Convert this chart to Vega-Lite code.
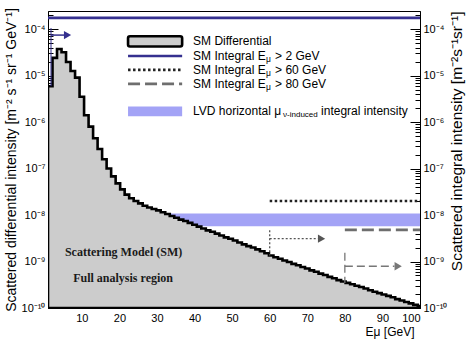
{
  "$schema": "https://vega.github.io/schema/vega-lite/v6.json",
  "width": 372,
  "height": 297,
  "autosize": {"type": "none"},
  "padding": {"left": 48, "top": 11, "right": 49, "bottom": 35},
  "background": "white",
  "config": {
    "view": {"stroke": "black", "strokeWidth": 1},
    "font": "Liberation Sans",
    "axis": {"domainColor": "black", "tickColor": "black", "labelColor": "black", "titleColor": "black", "labelFont": "Liberation Sans", "titleFont": "Liberation Sans", "labelFontSize": 11, "titleFontSize": 14, "titleFontWeight": "normal", "grid": false}
  },
  "datasets": {
    "hist": [
      {"e": 1, "v": 5.89e-6}, {"e": 2.2, "v": 2.40e-5}, {"e": 3.4, "v": 3.72e-5}, {"e": 4.6, "v": 3.16e-5}, {"e": 5.8, "v": 1.95e-5},
      {"e": 7, "v": 1.25e-5}, {"e": 8.2, "v": 9.0e-6}, {"e": 9.4, "v": 3.5e-6}, {"e": 10.6, "v": 1.4e-6}, {"e": 11.8, "v": 7.94e-7},
      {"e": 13, "v": 4.47e-7}, {"e": 14.2, "v": 2.63e-7}, {"e": 15.4, "v": 1.58e-7}, {"e": 16.6, "v": 1.00e-7}, {"e": 17.8, "v": 6.76e-8},
      {"e": 19, "v": 4.79e-8}, {"e": 20.2, "v": 3.55e-8}, {"e": 21.4, "v": 2.75e-8}, {"e": 22.6, "v": 2.29e-8}, {"e": 23.8, "v": 2.00e-8},
      {"e": 25, "v": 1.78e-8}, {"e": 26.2, "v": 1.58e-8}, {"e": 27.4, "v": 1.45e-8}, {"e": 28.6, "v": 1.35e-8}, {"e": 29.8, "v": 1.26e-8},
      {"e": 31, "v": 1.15e-8}, {"e": 32.2, "v": 1.05e-8}, {"e": 33.4, "v": 9.55e-9}, {"e": 34.6, "v": 8.71e-9}, {"e": 35.8, "v": 7.94e-9},
      {"e": 37, "v": 7.41e-9}, {"e": 38.2, "v": 6.76e-9}, {"e": 39.4, "v": 6.17e-9}, {"e": 40.6, "v": 5.62e-9}, {"e": 41.8, "v": 5.13e-9},
      {"e": 43, "v": 4.68e-9}, {"e": 44.2, "v": 4.37e-9}, {"e": 45.4, "v": 3.98e-9}, {"e": 46.6, "v": 3.63e-9}, {"e": 47.8, "v": 3.31e-9},
      {"e": 49, "v": 3.09e-9}, {"e": 50.2, "v": 2.82e-9}, {"e": 51.4, "v": 2.57e-9}, {"e": 52.6, "v": 2.34e-9}, {"e": 53.8, "v": 2.14e-9},
      {"e": 55, "v": 2.00e-9}, {"e": 56.2, "v": 1.82e-9}, {"e": 57.4, "v": 1.66e-9}, {"e": 58.6, "v": 1.51e-9}, {"e": 59.8, "v": 1.35e-9},
      {"e": 61, "v": 1.23e-9}, {"e": 62.2, "v": 1.15e-9}, {"e": 63.4, "v": 1.05e-9}, {"e": 64.6, "v": 9.77e-10}, {"e": 65.8, "v": 8.91e-10},
      {"e": 67, "v": 8.32e-10}, {"e": 68.2, "v": 7.59e-10}, {"e": 69.4, "v": 7.08e-10}, {"e": 70.6, "v": 6.46e-10}, {"e": 71.8, "v": 6.03e-10},
      {"e": 73, "v": 5.50e-10}, {"e": 74.2, "v": 5.13e-10}, {"e": 75.4, "v": 4.68e-10}, {"e": 76.6, "v": 4.37e-10}, {"e": 77.8, "v": 3.98e-10},
      {"e": 79, "v": 3.72e-10}, {"e": 80.2, "v": 3.47e-10}, {"e": 81.4, "v": 3.24e-10}, {"e": 82.6, "v": 3.02e-10}, {"e": 83.8, "v": 2.82e-10},
      {"e": 85, "v": 2.63e-10}, {"e": 86.2, "v": 2.40e-10}, {"e": 87.4, "v": 2.24e-10}, {"e": 88.6, "v": 2.09e-10}, {"e": 89.8, "v": 1.95e-10},
      {"e": 91, "v": 1.82e-10}, {"e": 92.2, "v": 1.70e-10}, {"e": 93.4, "v": 1.55e-10}, {"e": 94.6, "v": 1.45e-10}, {"e": 95.8, "v": 1.35e-10},
      {"e": 97, "v": 1.26e-10}, {"e": 98.2, "v": 1.17e-10}, {"e": 99.4, "v": 1.10e-10}, {"e": 100, "v": 1.10e-10}
    ],
    "band": [{"x1": 1, "x2": 100, "lo": 5.7e-9, "hi": 1.08e-8}],
    "integral": [
      {"name": "gt2", "x1": 1, "x2": 100, "v": 1.74e-4},
      {"name": "gt60", "x1": 60, "x2": 100, "v": 2.0e-8},
      {"name": "gt80", "x1": 80, "x2": 100, "v": 4.8e-9}
    ],
    "arrows": [
      {"name": "gt2", "x": 1.8, "top": 1.05e-4, "bottom": 5.89e-6, "ay": 7.4e-5, "ax2": 5.6, "head": 6.2},
      {"name": "gt60", "x": 60, "top": 4.7e-9, "bottom": 1.35e-9, "ay": 3.1e-9, "ax2": 72.8, "head": 73.8},
      {"name": "gt80", "x": 80, "top": 1.55e-9, "bottom": 3.47e-10, "ay": 7.9e-10, "ax2": 93.2, "head": 94.2}
    ],
    "notes": [
      {"t": "Scattering Model (SM)", "x": 5.5, "y": 1.6e-9},
      {"t": "Full analysis region", "x": 7.7, "y": 4.4e-10}
    ],
    "legsym": [
      {"name": "gt2", "x1": 22.3, "x2": 36.7, "v": 2.63e-5},
      {"name": "gt60", "x1": 22.3, "x2": 36.7, "v": 1.32e-5},
      {"name": "gt80", "x1": 22.3, "x2": 36.7, "v": 6.6e-6}
    ],
    "legbox": [
      {"name": "diff", "x1": 22.3, "x2": 36.7, "lo": 4.2e-5, "hi": 7.0e-5},
      {"name": "lvd", "x1": 22.3, "x2": 36.7, "lo": 1.33e-6, "hi": 2.15e-6}
    ],
    "legtext": [
      {"t": "SM Differential", "x": 39.6, "y": 5.4e-5},
      {"t": "SM Integral E", "x": 39.6, "y": 2.63e-5},
      {"t": "SM Integral E", "x": 39.6, "y": 1.32e-5},
      {"t": "SM Integral E", "x": 39.6, "y": 6.6e-6},
      {"t": "LVD horizontal μ", "x": 39.6, "y": 1.7e-6}
    ],
    "legsub": [
      {"t": "μ", "x": 39.6, "y": 2.63e-5},
      {"t": "μ", "x": 39.6, "y": 1.32e-5},
      {"t": "μ", "x": 39.6, "y": 6.6e-6}
    ],
    "legpost": [
      {"t": "> 2 GeV", "x": 39.6, "y": 2.63e-5},
      {"t": "> 60 GeV", "x": 39.6, "y": 1.32e-5},
      {"t": "> 80 GeV", "x": 39.6, "y": 6.6e-6}
    ],
    "lvdsub": [{"t": "ν-induced", "x": 39.6, "y": 1.7e-6}],
    "lvdpost": [{"t": "integral intensity", "x": 39.6, "y": 1.7e-6}]
  },
  "resolve": {"axis": {"x": "independent", "y": "independent"}},
  "layer": [
    {
      "data": {"name": "band"},
      "mark": {"type": "rect", "color": "#a3a3f6", "clip": true},
      "encoding": {
        "x": {"field": "x1", "type": "quantitative", "scale": {"domain": [1, 100], "nice": false, "zero": false},
              "axis": {"orient": "bottom", "values": [2,4,6,8,12,14,16,18,22,24,26,28,32,34,36,38,42,44,46,48,52,54,56,58,62,64,66,68,72,74,76,78,82,84,86,88,92,94,96,98], "labels": false, "domain": false, "tickSize": -5, "title": null}},
        "x2": {"field": "x2"},
        "y": {"field": "lo", "type": "quantitative", "scale": {"type": "log", "domain": [1e-10, 2.44e-4], "nice": false},
              "axis": {"orient": "left", "values": [2e-10,3e-10,4e-10,5e-10,6e-10,7e-10,8e-10,9e-10,2e-9,3e-9,4e-9,5e-9,6e-9,7e-9,8e-9,9e-9,2e-8,3e-8,4e-8,5e-8,6e-8,7e-8,8e-8,9e-8,2e-7,3e-7,4e-7,5e-7,6e-7,7e-7,8e-7,9e-7,2e-6,3e-6,4e-6,5e-6,6e-6,7e-6,8e-6,9e-6,2e-5,3e-5,4e-5,5e-5,6e-5,7e-5,8e-5,9e-5,2e-4], "labels": false, "domain": false, "tickSize": -5, "title": null}},
        "y2": {"field": "hi"}
      }
    },
    {
      "data": {"name": "hist"},
      "mark": {"type": "area", "interpolate": "step-after", "fill": "#cccccc", "stroke": "black", "strokeWidth": 2.6, "clip": true},
      "encoding": {
        "x": {"field": "e", "type": "quantitative",
              "axis": {"orient": "bottom", "values": [10,20,30,40,50,60,70,80,90,100], "tickSize": -9, "labelPadding": 13, "title": "Eμ [GeV]", "titleFontSize": 12, "titleAnchor": null, "titleAlign": "right", "titleBaseline": "middle", "titleX": 366, "titleY": 23}},
        "y": {"field": "v", "type": "quantitative",
              "axis": {"orient": "left", "values": [1e-10,1e-9,1e-8,1e-7,1e-6,1e-5,1e-4], "tickSize": -10, "labelPadding": 13,
                       "labelExpr": "'10⁻' + replace(replace(replace(replace(replace(replace(replace(replace('' + round(-log(datum.value)/LN10), '1', '¹'), '0', '⁰'), '4', '⁴'), '5', '⁵'), '6', '⁶'), '7', '⁷'), '8', '⁸'), '9', '⁹')",
                       "title": "Scattered differential intensity [m⁻² s⁻¹ sr⁻¹ GeV⁻¹]", "titlePadding": 3}},
        "y2": {"datum": 1e-10}
      }
    },
    {
      "data": {"name": "integral"},
      "transform": [{"filter": "datum.name == 'gt2'"}],
      "mark": {"type": "rule", "color": "#35308f", "strokeWidth": 2.6},
      "encoding": {
        "x": {"field": "x1", "type": "quantitative", "axis": null},
        "x2": {"field": "x2"},
        "y": {"field": "v", "type": "quantitative",
              "axis": {"orient": "right", "values": [1e-10,1e-9,1e-8,1e-7,1e-6,1e-5,1e-4], "tickSize": -10, "labelPadding": 13,
                       "labelExpr": "'10⁻' + replace(replace(replace(replace(replace(replace(replace(replace('' + round(-log(datum.value)/LN10), '1', '¹'), '0', '⁰'), '4', '⁴'), '5', '⁵'), '6', '⁶'), '7', '⁷'), '8', '⁸'), '9', '⁹')",
                       "title": "Scattered integral intensity [m⁻²s⁻¹sr⁻¹]", "titleFontSize": 15.5, "titleAngle": 270, "titleAnchor": "end", "titleAlign": "right", "titleBaseline": "top", "titlePadding": 3}}
      }
    },
    {
      "data": {"name": "integral"},
      "transform": [{"filter": "datum.name == 'gt60'"}],
      "mark": {"type": "rule", "color": "#222222", "strokeWidth": 2.6, "strokeDash": [2.5, 2.5]},
      "encoding": {
        "x": {"field": "x1", "type": "quantitative", "axis": null},
        "x2": {"field": "x2"},
        "y": {"field": "v", "type": "quantitative",
              "axis": {"orient": "right", "values": [2e-10,3e-10,4e-10,5e-10,6e-10,7e-10,8e-10,9e-10,2e-9,3e-9,4e-9,5e-9,6e-9,7e-9,8e-9,9e-9,2e-8,3e-8,4e-8,5e-8,6e-8,7e-8,8e-8,9e-8,2e-7,3e-7,4e-7,5e-7,6e-7,7e-7,8e-7,9e-7,2e-6,3e-6,4e-6,5e-6,6e-6,7e-6,8e-6,9e-6,2e-5,3e-5,4e-5,5e-5,6e-5,7e-5,8e-5,9e-5,2e-4], "labels": false, "domain": false, "tickSize": -5, "title": null}}
      }
    },
    {
      "data": {"name": "integral"},
      "transform": [{"filter": "datum.name == 'gt80'"}],
      "mark": {"type": "rule", "color": "#6e6e6e", "strokeWidth": 2.6, "strokeDash": [12, 5]},
      "encoding": {
        "x": {"field": "x1", "type": "quantitative", "axis": null},
        "x2": {"field": "x2"},
        "y": {"field": "v", "type": "quantitative", "axis": null}
      }
    },
    {
      "data": {"name": "arrows"},
      "transform": [{"filter": "datum.name == 'gt2'"}],
      "layer": [
        {"mark": {"type": "rule", "color": "#35308f", "strokeWidth": 1},
         "encoding": {"x": {"field": "x", "type": "quantitative", "axis": null}, "y": {"field": "top", "type": "quantitative", "axis": null}, "y2": {"field": "bottom"}}},
        {"mark": {"type": "rule", "color": "#35308f", "strokeWidth": 1.5},
         "encoding": {"x": {"field": "x", "type": "quantitative", "axis": null}, "x2": {"field": "ax2"}, "y": {"field": "ay", "type": "quantitative", "axis": null}}},
        {"mark": {"type": "point", "shape": "triangle-right", "filled": true, "color": "#35308f", "size": 70, "opacity": 1},
         "encoding": {"x": {"field": "head", "type": "quantitative", "axis": null}, "y": {"field": "ay", "type": "quantitative", "axis": null}}}
      ]
    },
    {
      "data": {"name": "arrows"},
      "transform": [{"filter": "datum.name == 'gt60'"}],
      "layer": [
        {"mark": {"type": "rule", "color": "#555555", "strokeWidth": 1.3, "strokeDash": [2, 2]},
         "encoding": {"x": {"field": "x", "type": "quantitative", "axis": null}, "y": {"field": "top", "type": "quantitative", "axis": null}, "y2": {"field": "bottom"}}},
        {"mark": {"type": "rule", "color": "#555555", "strokeWidth": 1.3, "strokeDash": [2, 2]},
         "encoding": {"x": {"field": "x", "type": "quantitative", "axis": null}, "x2": {"field": "ax2"}, "y": {"field": "ay", "type": "quantitative", "axis": null}}},
        {"mark": {"type": "point", "shape": "triangle-right", "filled": true, "color": "#555555", "size": 70, "opacity": 1},
         "encoding": {"x": {"field": "head", "type": "quantitative", "axis": null}, "y": {"field": "ay", "type": "quantitative", "axis": null}}}
      ]
    },
    {
      "data": {"name": "arrows"},
      "transform": [{"filter": "datum.name == 'gt80'"}],
      "layer": [
        {"mark": {"type": "rule", "color": "#777777", "strokeWidth": 1.3, "strokeDash": [8, 4]},
         "encoding": {"x": {"field": "x", "type": "quantitative", "axis": null}, "y": {"field": "top", "type": "quantitative", "axis": null}, "y2": {"field": "bottom"}}},
        {"mark": {"type": "rule", "color": "#777777", "strokeWidth": 1.3, "strokeDash": [8, 4]},
         "encoding": {"x": {"field": "x", "type": "quantitative", "axis": null}, "x2": {"field": "ax2"}, "y": {"field": "ay", "type": "quantitative", "axis": null}}},
        {"mark": {"type": "point", "shape": "triangle-right", "filled": true, "color": "#777777", "size": 70, "opacity": 1},
         "encoding": {"x": {"field": "head", "type": "quantitative", "axis": null}, "y": {"field": "ay", "type": "quantitative", "axis": null}}}
      ]
    },
    {
      "data": {"name": "notes"},
      "mark": {"type": "text", "font": "Liberation Serif", "fontWeight": "bold", "fontSize": 12, "align": "left", "baseline": "middle", "color": "#1a1a1a"},
      "encoding": {"x": {"field": "x", "type": "quantitative", "axis": null}, "y": {"field": "y", "type": "quantitative", "axis": null}, "text": {"field": "t"}}
    },
    {
      "data": {"name": "legbox"},
      "transform": [{"filter": "datum.name == 'lvd'"}],
      "mark": {"type": "rect", "color": "#a3a3f6"},
      "encoding": {"x": {"field": "x1", "type": "quantitative", "axis": null}, "x2": {"field": "x2"}, "y": {"field": "lo", "type": "quantitative", "axis": null}, "y2": {"field": "hi"}}
    },
    {
      "data": {"name": "legbox"},
      "transform": [{"filter": "datum.name == 'diff'"}],
      "mark": {"type": "rect", "fill": "#cccccc", "stroke": "black", "strokeWidth": 2.6, "cornerRadius": 2},
      "encoding": {"x": {"field": "x1", "type": "quantitative", "axis": null}, "x2": {"field": "x2"}, "y": {"field": "lo", "type": "quantitative", "axis": null}, "y2": {"field": "hi"}}
    },
    {
      "data": {"name": "legsym"},
      "transform": [{"filter": "datum.name == 'gt2'"}],
      "mark": {"type": "rule", "color": "#35308f", "strokeWidth": 2.6},
      "encoding": {"x": {"field": "x1", "type": "quantitative", "axis": null}, "x2": {"field": "x2"}, "y": {"field": "v", "type": "quantitative", "axis": null}}
    },
    {
      "data": {"name": "legsym"},
      "transform": [{"filter": "datum.name == 'gt60'"}],
      "mark": {"type": "rule", "color": "#222222", "strokeWidth": 2.6, "strokeDash": [2.5, 2.5]},
      "encoding": {"x": {"field": "x1", "type": "quantitative", "axis": null}, "x2": {"field": "x2"}, "y": {"field": "v", "type": "quantitative", "axis": null}}
    },
    {
      "data": {"name": "legsym"},
      "transform": [{"filter": "datum.name == 'gt80'"}],
      "mark": {"type": "rule", "color": "#6e6e6e", "strokeWidth": 2.6, "strokeDash": [12, 5]},
      "encoding": {"x": {"field": "x1", "type": "quantitative", "axis": null}, "x2": {"field": "x2"}, "y": {"field": "v", "type": "quantitative", "axis": null}}
    },
    {
      "data": {"name": "legtext"},
      "mark": {"type": "text", "fontSize": 12, "align": "left", "baseline": "middle", "color": "black"},
      "encoding": {"x": {"field": "x", "type": "quantitative", "axis": null}, "y": {"field": "y", "type": "quantitative", "axis": null}, "text": {"field": "t"}}
    },
    {
      "data": {"name": "legsub"},
      "mark": {"type": "text", "fontSize": 8.5, "align": "left", "baseline": "middle", "color": "black", "dx": 73, "dy": 3.5},
      "encoding": {"x": {"field": "x", "type": "quantitative", "axis": null}, "y": {"field": "y", "type": "quantitative", "axis": null}, "text": {"field": "t"}}
    },
    {
      "data": {"name": "legpost"},
      "mark": {"type": "text", "fontSize": 12, "align": "left", "baseline": "middle", "color": "black", "dx": 82},
      "encoding": {"x": {"field": "x", "type": "quantitative", "axis": null}, "y": {"field": "y", "type": "quantitative", "axis": null}, "text": {"field": "t"}}
    },
    {
      "data": {"name": "lvdsub"},
      "mark": {"type": "text", "fontSize": 8, "align": "left", "baseline": "middle", "color": "black", "dx": 90, "dy": 3.5},
      "encoding": {"x": {"field": "x", "type": "quantitative", "axis": null}, "y": {"field": "y", "type": "quantitative", "axis": null}, "text": {"field": "t"}}
    },
    {
      "data": {"name": "lvdpost"},
      "mark": {"type": "text", "fontSize": 12, "align": "left", "baseline": "middle", "color": "black", "dx": 128},
      "encoding": {"x": {"field": "x", "type": "quantitative", "axis": null}, "y": {"field": "y", "type": "quantitative", "axis": null}, "text": {"field": "t"}}
    }
  ]
}
